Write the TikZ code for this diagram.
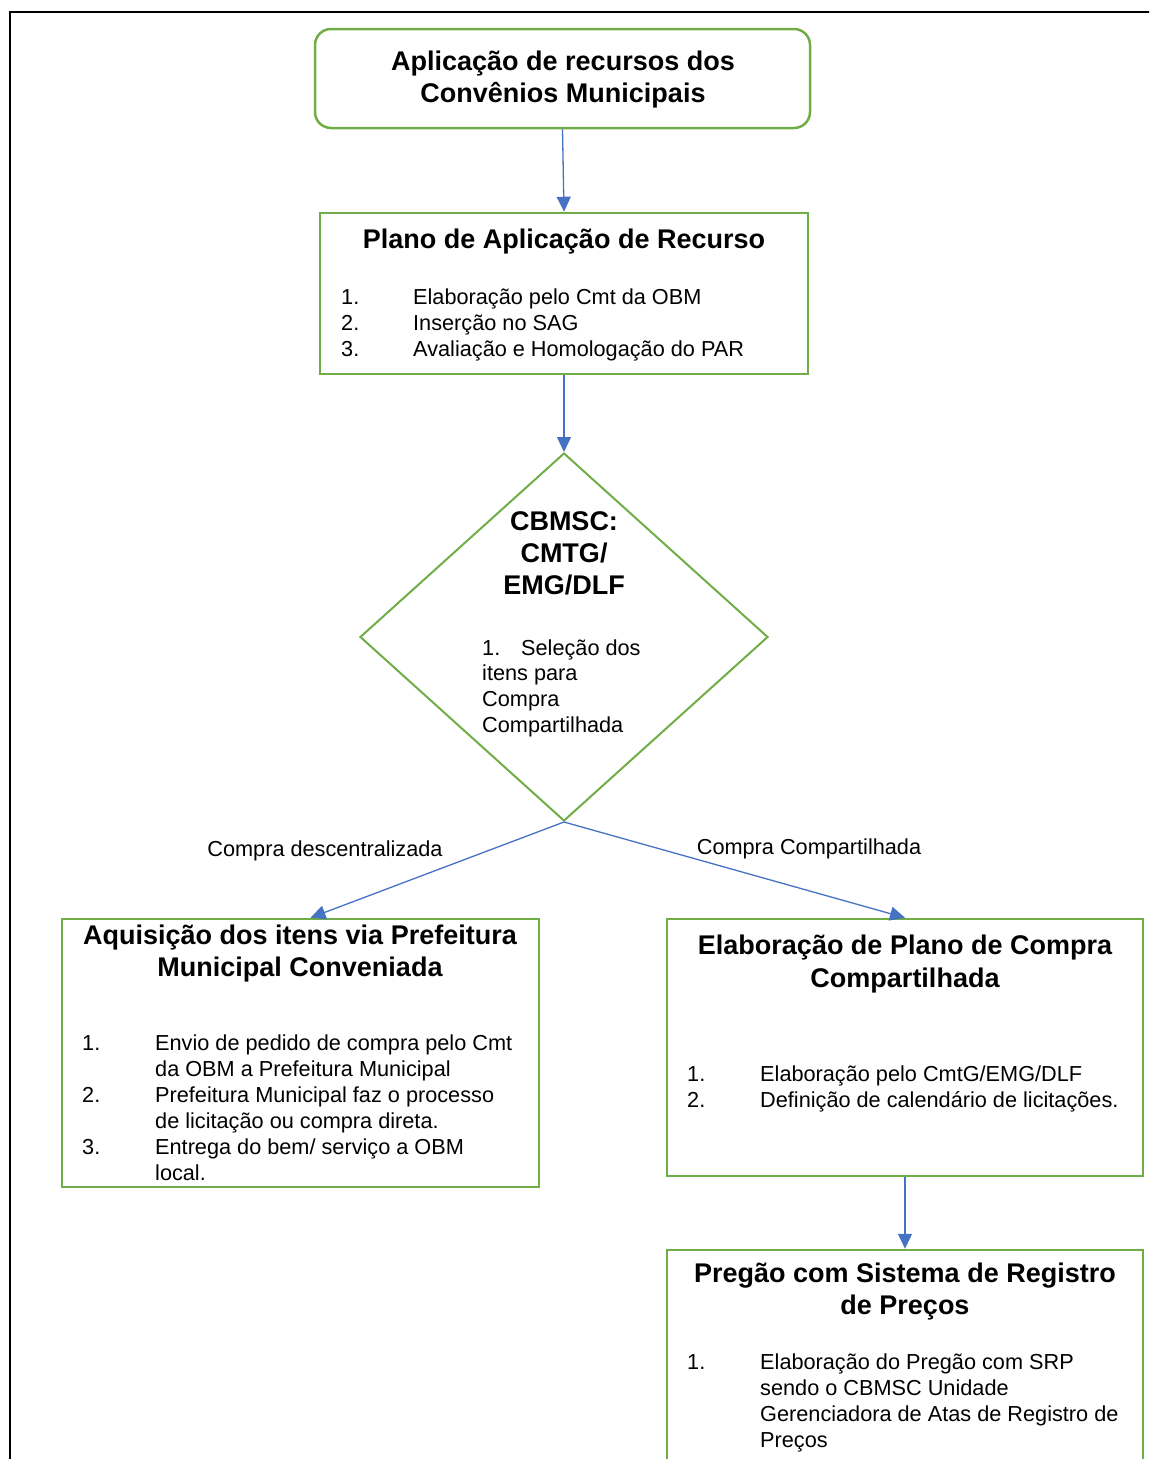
\documentclass[tikz,border=0pt]{standalone}
\usepackage{fontspec}
\setmainfont{Liberation Sans}
\usetikzlibrary{shapes.geometric,arrows.meta}
\definecolor{gr}{RGB}{112,173,71}
\definecolor{bl}{RGB}{68,114,196}
\newcommand\bodyf{\fontsize{21.7}{26}\selectfont}
\newcommand\titf{\bfseries\fontsize{27}{32}\selectfont}
\begin{document}
\begin{tikzpicture}[x=1pt,y=-1pt,
  box/.style={draw=gr,line width=2.5pt,inner sep=0pt},
  conn/.style={draw=bl,line width=1.3pt,-{Triangle[length=15pt,width=14pt]}},
  tt/.style={font=\titf,anchor=base,inner sep=0pt,yshift=1.5pt},
  bt/.style={font=\bodyf,anchor=base west,inner sep=0pt,yshift=1.5pt},
  lab/.style={font=\bodyf,anchor=base,inner sep=0pt,yshift=1.5pt}]
\useasboundingbox (0,0) rectangle (1149,1459);
\clip (0,0) rectangle (1149,1459);
% outer frame
\draw[line width=2pt] (10,1470) -- (10,12) -- (1160,12);
% shapes
\node[box,rounded corners=16pt,minimum width=495pt,minimum height=99pt] (b1) at (562.5,78.5) {};
\node[box,minimum width=488pt,minimum height=161pt] (b2) at (564,293.5) {};
\node[box,diamond,line width=2pt,minimum width=408pt,minimum height=368pt] (dia) at (564,637) {};
\node[box,minimum width=477pt,minimum height=268pt] (b3) at (300.5,1053) {};
\node[box,minimum width=476pt,minimum height=257pt] (b4) at (905,1047.5) {};
\node[box,minimum width=476pt,minimum height=220pt] (b5) at (905,1360) {};
% connectors
\draw[conn] (b1.south) -- (b2.north);
\draw[conn] (b2.south) -- (dia.north);
\draw[conn] (dia.south) -- ([xshift=10pt]b3.north);
\draw[conn] (dia.south) -- (b4.north);
\draw[conn] (b4.south) -- (b5.north);
\node[lab] (l1) at (325,858) {Compra descentralizada};
\node[lab] (l2) at (809,856) {Compra Compartilhada};
% box 1
\node[tt] (t1a) at (563,72) {Aplicação de recursos dos};
\node[tt] (t1b) at (563,104) {Convênios Municipais};
% box 2
\node[tt] (t2) at (564,250) {Plano de Aplicação de Recurso};
\node[bt] (n2a) at (341,306) {1.};
\node[bt] (n2b) at (341,332) {2.};
\node[bt] (n2c) at (341,358) {3.};
\node[bt] (s2a) at (413,306) {Elaboração pelo Cmt da OBM};
\node[bt] (s2b) at (413,332) {Inserção no SAG};
\node[bt] (s2c) at (413,358) {Avaliação e Homologação do PAR};
% diamond
\node[tt] (d1) at (564,532) {CBMSC:};
\node[tt] (d2) at (564,564) {CMTG/};
\node[tt] (d3) at (564,596) {EMG/DLF};
\node[bt] (dn) at (482,657) {1.};
\node[bt] (da) at (521,657) {Seleção dos};
\node[bt] (db) at (482,682) {itens para};
\node[bt] (dc) at (482,708) {Compra};
\node[bt] (dd) at (482,734) {Compartilhada};
% box 3
\node[tt] (t3a) at (300,946) {Aquisição dos itens via Prefeitura};
\node[tt] (t3b) at (300,978) {Municipal Conveniada};
\node[bt] (n3a) at (82,1052) {1.};
\node[bt] (n3b) at (82,1104) {2.};
\node[bt] (n3c) at (82,1156) {3.};
\node[bt] (s3a) at (155,1052) {Envio de pedido de compra pelo Cmt};
\node[bt] (s3b) at (155,1078) {da OBM a Prefeitura Municipal};
\node[bt] (s3c) at (155,1104) {Prefeitura Municipal faz o processo};
\node[bt] (s3d) at (155,1130) {de licitação ou compra direta.};
\node[bt] (s3e) at (155,1156) {Entrega do bem/ serviço a OBM};
\node[bt] (s3f) at (155,1182) {local.};
% box 4
\node[tt] (t4a) at (905,956) {Elaboração de Plano de Compra};
\node[tt] (t4b) at (905,989) {Compartilhada};
\node[bt] (n4a) at (687,1083) {1.};
\node[bt] (n4b) at (687,1109) {2.};
\node[bt] (s4a) at (760,1083) {Elaboração pelo CmtG/EMG/DLF};
\node[bt] (s4b) at (760,1109) {Definição de calendário de licitações.};
% box 5
\node[tt] (t5a) at (905,1284) {Pregão com Sistema de Registro};
\node[tt] (t5b) at (905,1316) {de Preços};
\node[bt] (n5a) at (687,1371) {1.};
\node[bt] (s5a) at (760,1371) {Elaboração do Pregão com SRP};
\node[bt] (s5b) at (760,1397) {sendo o CBMSC Unidade};
\node[bt] (s5c) at (760,1423) {Gerenciadora de Atas de Registro de};
\node[bt] (s5d) at (760,1449) {Preços};
\end{tikzpicture}
\end{document}
